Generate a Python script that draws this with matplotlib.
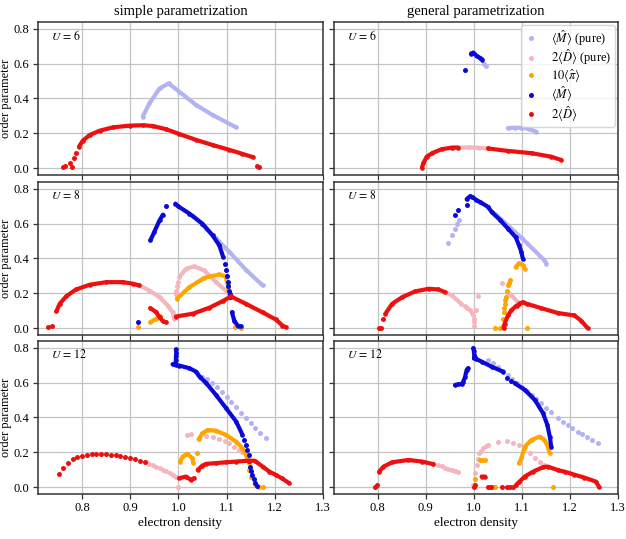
import matplotlib
matplotlib.use('Agg')
import matplotlib.pyplot as plt
from matplotlib.lines import Line2D

N = float('nan')

# ---------------- U = 6, simple ----------------
s6_mp_x = [0.926, 0.940, 0.961, 0.980, 1.002, 1.037, 1.071, 1.120]
s6_mp_y = [0.295, 0.371, 0.457, 0.486, 0.438, 0.362, 0.305, 0.234]
s6_d_x = [0.794, 0.802, 0.816, 0.837, 0.864, 0.899, 0.926, 0.947, 0.975, 1.002, 1.037, 1.071, 1.106, 1.133, 1.155]
s6_d_y = [0.124, 0.158, 0.190, 0.215, 0.234, 0.244, 0.246, 0.242, 0.223, 0.196, 0.162, 0.133, 0.105, 0.082, 0.063]
s6_d_dx = [0.761, 0.766, 0.776, 0.780, 0.783, 0.788, 1.163, 1.168]
s6_d_dy = [0.006, 0.013, 0.029, 0.006, 0.057, 0.086, 0.015, 0.004]

# ---------------- U = 6, general ----------------
g6_m_x = [0.994, 0.999, 1.006, 1.013, 1.018]
g6_m_y = [0.657, 0.663, 0.643, 0.632, 0.623]
g6_m_dx = [0.982]
g6_m_dy = [0.562]
g6_mp_x = [1.071, 1.085, 1.099, 1.115, 1.130]
g6_mp_y = [0.229, 0.232, 0.232, 0.225, 0.209]
g6_mp_dx = [1.022, 1.026]
g6_mp_dy = [0.600, 0.586]
g6_dp_x = [0.954, 0.968, 0.990, 1.010, 1.030]
g6_dp_y = [0.118, 0.118, 0.119, 0.117, 0.113]
g6_d_x = [0.892, 0.895, 0.902, 0.913, 0.933, 0.954, 0.968, N, 1.030, 1.071, 1.120, 1.161, 1.182]
g6_d_y = [0.003, 0.029, 0.066, 0.086, 0.109, 0.118, 0.118, N, 0.113, 0.099, 0.086, 0.066, 0.047]

# ---------------- U = 8, simple ----------------
s8_m_x = [0.942, 0.950, 0.961, 0.968, N, 0.994, 0.999, 1.023, 1.050, 1.071, 1.085, 1.093, N, 1.111, 1.116, 1.123, 1.130]
s8_m_y = [0.503, 0.551, 0.618, 0.651, N, 0.714, 0.700, 0.657, 0.599, 0.532, 0.475, 0.408, N, 0.092, 0.044, 0.015, 0.010]
s8_m_dx = [0.916, 0.975, 1.096, 1.099, 1.100, 1.102, 1.104, 1.106, 1.107, 1.108]
s8_m_dy = [0.038, 0.699, 0.370, 0.331, 0.300, 0.264, 0.240, 0.216, 0.195, 0.178]
s8_mp_x = [1.030, 1.058, 1.078, 1.106, 1.140, 1.175]
s8_mp_y = [0.645, 0.571, 0.515, 0.437, 0.335, 0.245]
s8_dp_x = [0.919, 0.940, 0.961, 0.978, 0.988, 0.992, N, 1.002, 1.016, 1.033, 1.054, 1.078, 1.102, 1.108]
s8_dp_y = [0.245, 0.216, 0.178, 0.130, 0.092, 0.054, N, 0.293, 0.341, 0.354, 0.331, 0.264, 0.207, 0.180]
s8_dp_dx = [0.995, 0.996, 0.998, 1.000]
s8_dp_dy = [0.197, 0.215, 0.240, 0.265]
s8_pi_x = [0.942, 0.954, 0.961, N, 0.997, 1.023, 1.054, 1.085, 1.098, 1.102, 1.104, 1.107]
s8_pi_y = [0.034, 0.054, 0.069, N, 0.169, 0.235, 0.289, 0.308, 0.297, 0.255, 0.226, 0.178]
s8_pi_dx = [0.916, 1.118, 1.130]
s8_pi_dy = [0.004, 0.005, 0.003]
s8_d_x = [0.747, 0.754, 0.768, 0.788, 0.816, 0.851, 0.885, 0.906, 0.919, N, 0.942, 0.954, 0.961, 0.968, 0.975, N,
          0.995, 1.030, 1.064, 1.092, 1.109, 1.140, 1.175, 1.202, 1.216, 1.223]
s8_d_y = [0.096, 0.140, 0.184, 0.222, 0.249, 0.264, 0.264, 0.255, 0.245, N, 0.115, 0.092, 0.063, 0.040, 0.034, N,
          0.067, 0.083, 0.117, 0.155, 0.182, 0.140, 0.090, 0.050, 0.015, 0.006]
s8_d_dx = [0.730, 0.737]
s8_d_dy = [0.004, 0.011]

# ---------------- U = 8, general ----------------
g8_m_x = [0.985, 0.992, 0.997, 1.005, 1.013, 1.030, 1.037, 1.054, 1.071, 1.087, 1.094, 1.099, 1.102]
g8_m_y = [0.739, 0.756, 0.752, 0.735, 0.723, 0.695, 0.666, 0.622, 0.571, 0.522, 0.475, 0.436, 0.398]
g8_m_dx = [0.961, 0.968, 0.986]
g8_m_dy = [0.647, 0.680, 0.704]
g8_mp_x = [1.044, 1.100, 1.147, 1.151]
g8_mp_y = [0.657, 0.516, 0.389, 0.370]
g8_mp_dx = [0.947, 0.954, 0.961, 0.966, 0.970]
g8_mp_dy = [0.488, 0.532, 0.571, 0.595, 0.618]
g8_dp_x = [0.940, 0.954, 0.974, N, 1.070, 1.078, 1.092]
g8_dp_y = [0.207, 0.188, 0.140, N, 0.210, 0.188, 0.149]
g8_dp_dx = [0.981, 0.986, 0.992, 0.996, 0.999, 1.000, 1.001, 1.001, 1.004, 1.009, 1.058]
g8_dp_dy = [0.128, 0.116, 0.102, 0.085, 0.073, 0.050, 0.034, 0.015, 0.102, 0.184, 0.258]
g8_pi_x = [1.087, 1.094, 1.102, 1.106]
g8_pi_y = [0.350, 0.373, 0.360, 0.341]
g8_pi_dx = [1.075, 1.073, 1.071, 1.068, 1.066, 1.065, 1.064, 1.063, 1.062, 1.061, 1.060, 1.044, 1.054, 1.110]
g8_pi_dy = [0.274, 0.260, 0.245, 0.216, 0.178, 0.160, 0.140, 0.115, 0.092, 0.054, 0.015, 0.000, 0.000, 0.000]
g8_d_x = [0.816, 0.830, 0.851, 0.878, 0.906, 0.926, 0.940, N, 1.062, 1.064, 1.071, 1.078, 1.089, N,
          1.094, 1.102, 1.110, 1.140, 1.175, 1.209, 1.223, 1.237]
g8_d_y = [0.083, 0.140, 0.178, 0.211, 0.226, 0.222, 0.207, N, 0.000, 0.025, 0.073, 0.102, 0.130, N,
          0.140, 0.149, 0.140, 0.115, 0.087, 0.073, 0.044, 0.000]
g8_d_dx = [0.802, 0.806, 0.812]
g8_d_dy = [0.000, 0.000, 0.050]

# ---------------- U = 12, simple ----------------
s12_m_x = [0.995, 0.996, 0.995, 0.995, 0.994, N, 0.988, 0.995, 1.002, 1.023, 1.037, 1.044, 1.058, 1.078, 1.099, 1.120, 1.133]
s12_m_y = [0.790, 0.770, 0.750, 0.730, 0.710, N, 0.705, 0.700, 0.697, 0.682, 0.662, 0.634, 0.596, 0.529, 0.453, 0.376, 0.300]
s12_m_dx = [1.137, 1.140, 1.143, 1.146, 1.147, 1.149, 1.151, 1.153, 1.156, 1.160, 1.164]
s12_m_dy = [0.270, 0.242, 0.213, 0.185, 0.150, 0.118, 0.095, 0.071, 0.045, 0.025, 0.009]
s12_mp_dx = [1.040, 1.050, 1.060, 1.070, 1.080, 1.090, 1.100, 1.110, 1.120, 1.130, 1.140, 1.150, 1.160, 1.170, 1.182]
s12_mp_dy = [0.643, 0.632, 0.618, 0.596, 0.572, 0.546, 0.518, 0.490, 0.460, 0.427, 0.397, 0.368, 0.342, 0.312, 0.281]
s12_dp_dx = [0.933, 0.940, 0.947, 0.954, 0.961, 0.968, 0.975, 0.982, 0.989, 0.996, 0.999,
             1.019, 1.026, 1.057, 1.071, 1.085, 1.096, 1.106, 1.116, 1.125, 1.133, 1.140]
s12_dp_dy = [0.143, 0.135, 0.127, 0.118, 0.109, 0.099, 0.090, 0.080, 0.068, 0.057, 0.003,
             0.300, 0.306, 0.295, 0.287, 0.276, 0.266, 0.252, 0.232, 0.215, 0.200, 0.185]
s12_pi_x = [1.004, 1.009, 1.019, 1.029, 1.031, N, 1.042, 1.050, 1.061, 1.078, 1.099, 1.120, 1.133, 1.142, 1.146]
s12_pi_y = [0.147, 0.176, 0.191, 0.166, 0.141, N, 0.275, 0.309, 0.328, 0.324, 0.300, 0.261, 0.223, 0.176, 0.140]
s12_pi_dx = [1.038, 1.147, 1.151, 1.160, 1.168, 1.175]
s12_pi_dy = [0.195, 0.099, 0.061, 0.020, 0.003, 0.003]
s12_d_x = [1.002, 1.016, 1.026, 1.033, N, 1.040, 1.050, 1.058, 1.078, 1.099, 1.120, 1.147, 1.158, 1.175, 1.189, 1.202, 1.215, 1.230]
s12_d_y = [0.052, 0.061, 0.042, 0.052, N, 0.099, 0.124, 0.134, 0.138, 0.143, 0.147, 0.152, 0.152, 0.118, 0.089, 0.071, 0.050, 0.023]
s12_d_dx = [0.752, 0.761, 0.771, 0.781, 0.790, 0.800, 0.810, 0.820, 0.830, 0.840, 0.850, 0.860,
            0.870, 0.880, 0.890, 0.900, 0.910, 0.920, 0.930]
s12_d_dy = [0.074, 0.112, 0.141, 0.162, 0.172, 0.180, 0.185, 0.188, 0.189, 0.189, 0.188, 0.186,
            0.182, 0.178, 0.173, 0.167, 0.160, 0.152, 0.145]

# ---------------- U = 12, general ----------------
g12_m_x = [0.999, 1.000, 1.001, 1.002, 1.000, N, 0.961, 0.968, 0.975, 0.978, 0.982, 0.985, 0.988, N,
           1.005, 1.016, 1.037, 1.061, N, 1.085, 1.106, 1.127, 1.144, 1.153, 1.158, 1.161]
g12_m_y = [0.797, 0.780, 0.760, 0.745, 0.739, N, 0.586, 0.590, 0.590, 0.605, 0.634, 0.672, 0.682, N,
           0.735, 0.720, 0.691, 0.662, N, 0.596, 0.558, 0.500, 0.424, 0.357, 0.290, 0.233]
g12_m_dx = [1.070, 1.078]
g12_m_dy = [0.628, 0.610]
g12_mp_dx = [1.030, 1.040, 1.050, 1.060, 1.071, 1.080, 1.090, 1.100, 1.110, 1.120, 1.130, 1.140, 1.150,
             1.160, 1.175, 1.185, 1.195, 1.205, 1.216, 1.226, 1.236, 1.246, 1.258]
g12_mp_dy = [0.730, 0.710, 0.688, 0.666, 0.643, 0.622, 0.600, 0.577, 0.553, 0.529, 0.505, 0.480, 0.455,
             0.430, 0.395, 0.376, 0.357, 0.338, 0.319, 0.303, 0.287, 0.270, 0.252]
g12_dp_dx = [0.916, 0.925, 0.933, 0.940, 0.947, 0.954, 0.961, 0.968,
             0.999, 1.002, 1.006, 1.009, 1.011, 1.015, 1.019, 1.025, 1.030, 1.051, 1.068, 1.082,
             1.095, 1.105, 1.116, 1.127, 1.137, 1.147]
g12_dp_dy = [0.132, 0.127, 0.121, 0.112, 0.105, 0.098, 0.092, 0.086,
             0.013, 0.080, 0.128, 0.160, 0.195, 0.210, 0.223, 0.235, 0.242, 0.261, 0.267, 0.256,
             0.242, 0.220, 0.195, 0.170, 0.147, 0.128]
g12_pi_x = [1.094, 1.099, 1.106, 1.120, 1.137, 1.147, 1.154, 1.158]
g12_pi_y = [0.137, 0.166, 0.233, 0.271, 0.290, 0.271, 0.233, 0.195]
g12_pi_dx = [1.013, 1.018, 1.023, 1.002, 1.033, 1.040, 1.044, 1.165]
g12_pi_dy = [0.157, 0.157, 0.157, 0.046, 0.000, 0.000, 0.000, 0.000]
g12_d_x = [0.803, 0.812, 0.830, 0.864, 0.892, 0.916, N, 1.016, 1.023, N,
           1.087, 1.095, 1.106, 1.123, 1.144, 1.154, 1.175, 1.189, 1.209, 1.230, 1.254, 1.261]
g12_d_y = [0.089, 0.118, 0.143, 0.156, 0.147, 0.132, N, 0.061, 0.061, N,
           0.010, 0.032, 0.061, 0.089, 0.115, 0.118, 0.098, 0.089, 0.072, 0.055, 0.032, 0.000]
g12_d_dx = [0.794, 0.799, 1.001, 1.002, 1.030, 1.036, 1.058, 1.068, 1.075, 1.082]
g12_d_dy = [0.003, 0.010, 0.000, 0.013, 0.000, 0.000, 0.000, 0.000, 0.000, 0.000]

E = []
xticks = [0.8, 0.9, 1.0, 1.1, 1.2, 1.3]
yticks = [0.0, 0.2, 0.4, 0.6, 0.8]
u_labels = ['6', '8', '12']
col_titles = ['simple parametrization', 'general parametrization']

C_MP = '#b3b3f3'
C_DP = '#f5b5bd'
C_PI = '#ffa500'
C_M = '#0a0ad8'
C_D = '#ee0f0f'

panels = {
    (0, 0): [(s6_mp_x, s6_mp_y, E, E), (E, E, E, E), (E, E, E, E), (E, E, E, E), (s6_d_x, s6_d_y, s6_d_dx, s6_d_dy)],
    (0, 1): [(g6_mp_x, g6_mp_y, g6_mp_dx, g6_mp_dy), (g6_dp_x, g6_dp_y, E, E), (E, E, E, E),
             (g6_m_x, g6_m_y, g6_m_dx, g6_m_dy), (g6_d_x, g6_d_y, E, E)],
    (1, 0): [(s8_mp_x, s8_mp_y, E, E), (s8_dp_x, s8_dp_y, s8_dp_dx, s8_dp_dy), (s8_pi_x, s8_pi_y, s8_pi_dx, s8_pi_dy),
             (s8_m_x, s8_m_y, s8_m_dx, s8_m_dy), (s8_d_x, s8_d_y, s8_d_dx, s8_d_dy)],
    (1, 1): [(g8_mp_x, g8_mp_y, g8_mp_dx, g8_mp_dy), (g8_dp_x, g8_dp_y, g8_dp_dx, g8_dp_dy),
             (g8_pi_x, g8_pi_y, g8_pi_dx, g8_pi_dy), (g8_m_x, g8_m_y, g8_m_dx, g8_m_dy), (g8_d_x, g8_d_y, g8_d_dx, g8_d_dy)],
    (2, 0): [(E, E, s12_mp_dx, s12_mp_dy), (E, E, s12_dp_dx, s12_dp_dy), (s12_pi_x, s12_pi_y, s12_pi_dx, s12_pi_dy),
             (s12_m_x, s12_m_y, s12_m_dx, s12_m_dy), (s12_d_x, s12_d_y, s12_d_dx, s12_d_dy)],
    (2, 1): [(E, E, g12_mp_dx, g12_mp_dy), (E, E, g12_dp_dx, g12_dp_dy), (g12_pi_x, g12_pi_y, g12_pi_dx, g12_pi_dy),
             (g12_m_x, g12_m_y, g12_m_dx, g12_m_dy), (g12_d_x, g12_d_y, g12_d_dx, g12_d_dy)],
}
colors = [C_MP, C_DP, C_PI, C_M, C_D]
labels = [r'$\langle\hat{M}\rangle$ (pure)', r'$2\langle\hat{D}\rangle$ (pure)', r'$10\langle\hat{\pi}\rangle$',
          r'$\langle\hat{M}\rangle$', r'$2\langle\hat{D}\rangle$']

plt.rcParams['font.family'] = ['Liberation Serif', 'DejaVu Serif']
plt.rcParams['mathtext.fontset'] = 'stix'

fig = plt.figure(figsize=(6.26, 5.39), dpi=100)
W, H = 626.0, 539.0
col_x = [(38, 323), (334, 618)]
row_y = [(22, 175), (182, 335), (341, 494)]

MS = 3.3
LW = 3.0
axes = {}
for (r, c), series in panels.items():
    x0, x1 = col_x[c]
    y0, y1 = row_y[r]
    ax = fig.add_axes([x0 / W, 1 - y1 / H, (x1 - x0) / W, (y1 - y0) / H])
    axes[(r, c)] = ax
    for (lx, ly, dx, dy), col in zip(series, colors):
        if lx:
            ax.plot(lx, ly, color=col, lw=LW, marker='o', ms=MS, mew=0,
                    solid_capstyle='round', solid_joinstyle='round')
        if dx:
            ax.plot(dx, dy, color=col, ls='none', marker='o', ms=MS + 0.3, mew=0)
    ax.set_xlim(0.709, 1.3)
    ax.set_ylim(-0.039, 0.838)
    ax.set_xticks(xticks)
    ax.set_yticks(yticks)
    ax.grid(True, color='#c4c4c4', lw=0.9)
    ax.set_axisbelow(True)
    for sp in ax.spines.values():
        sp.set_color('#333333')
        sp.set_linewidth(1.1)
    ax.tick_params(colors='#333333', labelcolor='black', labelsize=9, length=3.5, width=0.9, pad=2.5)
    if r < 2:
        ax.tick_params(labelbottom=False)
    else:
        ax.set_xlabel('electron density', fontsize=9.5, labelpad=2)
    if c == 1:
        ax.tick_params(labelleft=False)
    else:
        ax.set_ylabel('order parameter', fontsize=9)
        ax.yaxis.set_label_coords(-0.09, 0.5)
    ax.text(0.045, 0.955, r'$U\,=\,%s$' % u_labels[r], transform=ax.transAxes, va='top', ha='left', fontsize=8.5)
    if r == 0:
        ax.set_title(col_titles[c], fontsize=10.5, pad=5)

handles = [Line2D([], [], color=col, ls='none', marker='o', ms=MS + 0.3, mew=0) for col in colors]
leg = axes[(0, 1)].legend(handles, labels, loc='upper right', fontsize=9, frameon=True,
                          borderaxespad=0.25, handlelength=1.2, handletextpad=1.0,
                          labelspacing=0.0, borderpad=0.25, fancybox=True)
leg.get_frame().set_edgecolor('#cccccc')

fig.savefig('out.png', dpi=100)
